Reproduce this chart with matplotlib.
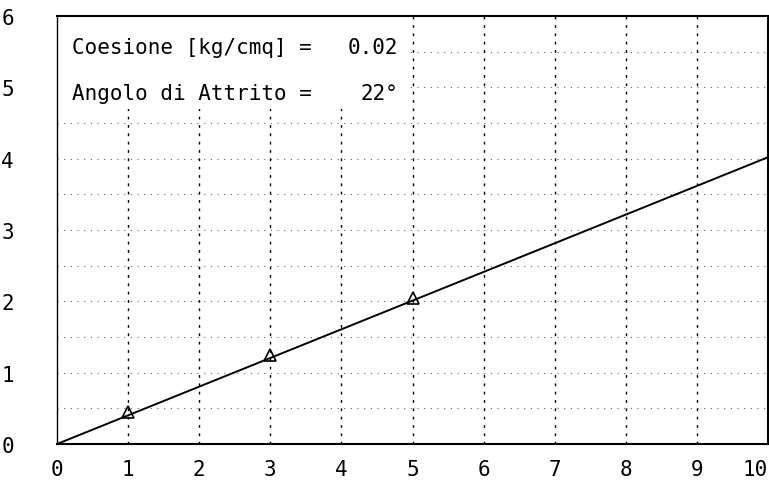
import matplotlib
matplotlib.use("Agg")
import matplotlib.pyplot as plt
from matplotlib.patches import Rectangle

# ---- data ----
line_x = [0, 10]
line_y = [0.0, 4.02]
pts_x = [1, 3, 5]
pts_y = [0.45, 1.25, 2.05]
x_ticks = [0, 1, 2, 3, 4, 5, 6, 7, 8, 9, 10]
y_ticks = [0, 1, 2, 3, 4, 5, 6]
v_grid = [1, 2, 3, 4, 5, 6, 7, 8, 9]
h_grid = [0.5, 1.0, 1.5, 2.0, 2.5, 3.0, 3.5, 4.0, 4.5, 5.0, 5.5]
labels = ["Coesione [kg/cmq] =", "Angolo di Attrito ="]
values = ["0.02", "22°"]

fig = plt.figure(figsize=(7.69, 4.81), dpi=100)
ax = fig.add_axes([57/769, 36/481, 711/769, 428/481])
ax.set_xlim(0, 10)
ax.set_ylim(0, 6)

for gx in v_grid:
    ax.axvline(gx, color="black", lw=1.0, ls=(0, (2, 4)), zorder=1)
for gy in h_grid:
    ax.axhline(gy, color="black", lw=0.8, ls=(0, (1, 5)), alpha=0.6, zorder=1)

# white area behind the text block (grid hidden there)
ax.add_patch(Rectangle((0, 4.7), 4.97, 1.3, facecolor="white", edgecolor="none", zorder=2))

ax.plot(line_x, line_y, color="black", lw=1.4, zorder=4)
ax.plot(pts_x, pts_y, ls="none", marker="^", ms=8, mfc="none", mec="black", mew=1.2, zorder=5)

mono = "DejaVu Sans Mono"
ax.text(0.21, 5.57, labels[0], family=mono, fontsize=15, va="center", ha="left", zorder=6)
ax.text(0.21, 4.92, labels[1], family=mono, fontsize=15, va="center", ha="left", zorder=6)
ax.text(4.8, 5.57, values[0], family=mono, fontsize=15, va="center", ha="right", zorder=6)
ax.text(4.8, 4.92, values[1], family=mono, fontsize=15, va="center", ha="right", zorder=6)

ax.set_xticks(x_ticks)
ax.set_yticks(y_ticks)
ax.set_xticklabels([str(v) for v in x_ticks], family=mono, fontsize=15)
ax.set_yticklabels([str(v) for v in y_ticks], family=mono, fontsize=15)
ax.get_xticklabels()[-1].set_horizontalalignment("right")
ax.tick_params(axis="x", length=0, pad=11)
ax.tick_params(axis="y", length=0, pad=31)

for s in ax.spines.values():
    s.set_color("black")
    s.set_linewidth(1.5)
ax.spines["left"].set_linewidth(1.0)

fig.savefig("out.png", dpi=100)
